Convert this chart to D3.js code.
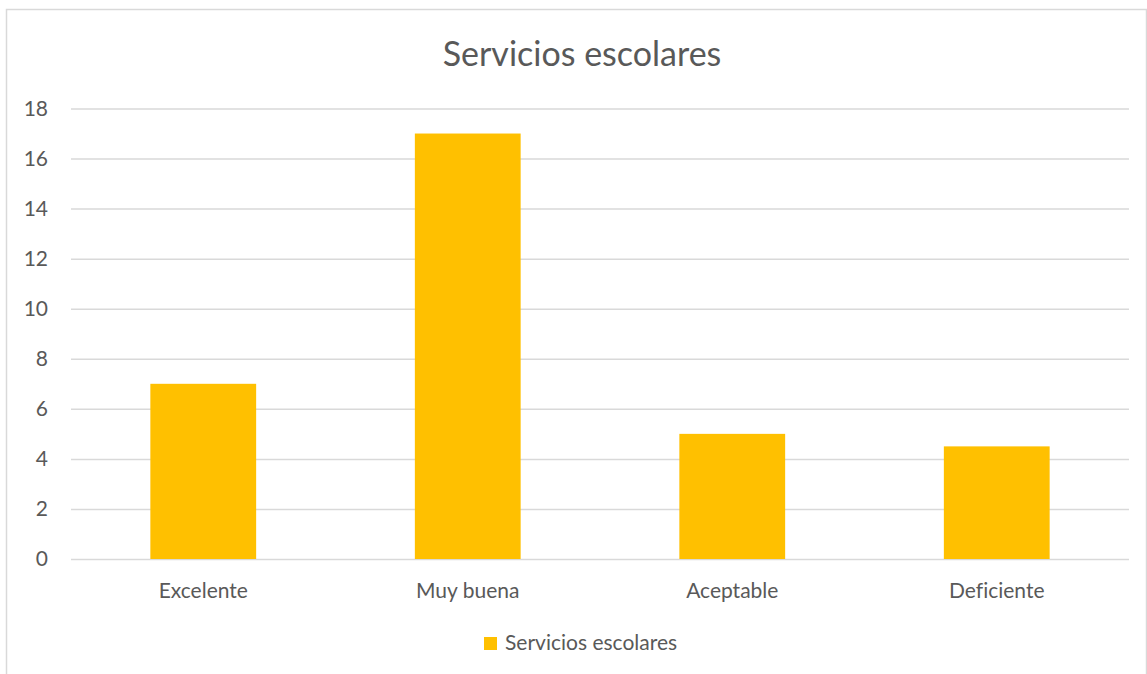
<!DOCTYPE html>
<html>
<head>
<meta charset="utf-8">
<script src="https://cdn.jsdelivr.net/npm/d3@7"></script>
<style>
  html, body { margin: 0; padding: 0; background: #fff; }
  svg { display: block; }
  text { font-family: Lato, "Open Sans", sans-serif; fill: #595959; font-variant-ligatures: none; }
</style>
</head>
<body>
<svg id="chart" width="1147" height="674"></svg>
<script>
const categories = ["Excelente", "Muy buena", "Aceptable", "Deficiente"];
const values = [7, 17, 5, 4.5];
const yTicks = [0, 2, 4, 6, 8, 10, 12, 14, 16, 18];
const seriesName = "Servicios escolares";
const chartTitle = "Servicios escolares";

(function () {
const svg = d3.select("#chart");
const labelSize = 21;

// chart area border (bottom edge falls outside the frame)
svg.append("rect")
  .attr("x", 6.5).attr("y", 9.5)
  .attr("width", 1140).attr("height", 700)
  .attr("fill", "#fff").attr("stroke", "#d9d9d9").attr("stroke-width", 1.5);

const pLeft = 71, pRight = 1129, pTop = 108.5, pBottom = 559;

const x = d3.scaleBand().domain(categories).range([pLeft, pRight])
  .paddingInner(0.6).paddingOuter(0.3);
const y = d3.scaleLinear().domain([0, 18]).range([pBottom, pTop]);

// gridlines
const grid = d3.axisLeft(y).tickValues(yTicks).tickSize(-(pRight - pLeft)).tickFormat("");
svg.append("g").attr("transform", `translate(${pLeft},0)`).call(grid)
  .call(g => g.select(".domain").remove())
  .call(g => g.selectAll("line").attr("stroke", "#d9d9d9").attr("stroke-width", 1.5));

// y labels
const yAxis = d3.axisLeft(y).tickValues(yTicks).tickSize(0).tickPadding(23);
svg.append("g").attr("transform", `translate(${pLeft},0)`).call(yAxis)
  .call(g => g.select(".domain").remove())
  .call(g => g.selectAll("text").attr("font-size", labelSize).attr("fill", "#595959")
    .style("font-family", "Lato, 'Open Sans', sans-serif"));

// bars
svg.append("g").selectAll("rect").data(values).join("rect")
  .attr("x", (d, i) => x(categories[i]))
  .attr("y", d => y(d))
  .attr("width", x.bandwidth())
  .attr("height", d => y(0) - y(d))
  .attr("fill", "#ffc000");

// x labels
const xAxis = d3.axisBottom(x).tickSize(0).tickPadding(24);
svg.append("g").attr("transform", `translate(0,${pBottom})`).call(xAxis)
  .call(g => g.select(".domain").remove())
  .call(g => g.selectAll("text").attr("font-size", labelSize).attr("fill", "#595959")
    .style("font-family", "Lato, 'Open Sans', sans-serif"));

// title
svg.append("text").attr("x", 582).attr("y", 65.5)
  .attr("text-anchor", "middle").attr("font-size", 34).text(chartTitle);

// legend
const lg = svg.append("g").attr("transform", "translate(484,637)");
lg.append("rect").attr("width", 13).attr("height", 13).attr("fill", "#ffc000");
lg.append("text").attr("x", 21).attr("y", 12.5).attr("font-size", labelSize).text(seriesName);
})();
</script>
</body>
</html>
